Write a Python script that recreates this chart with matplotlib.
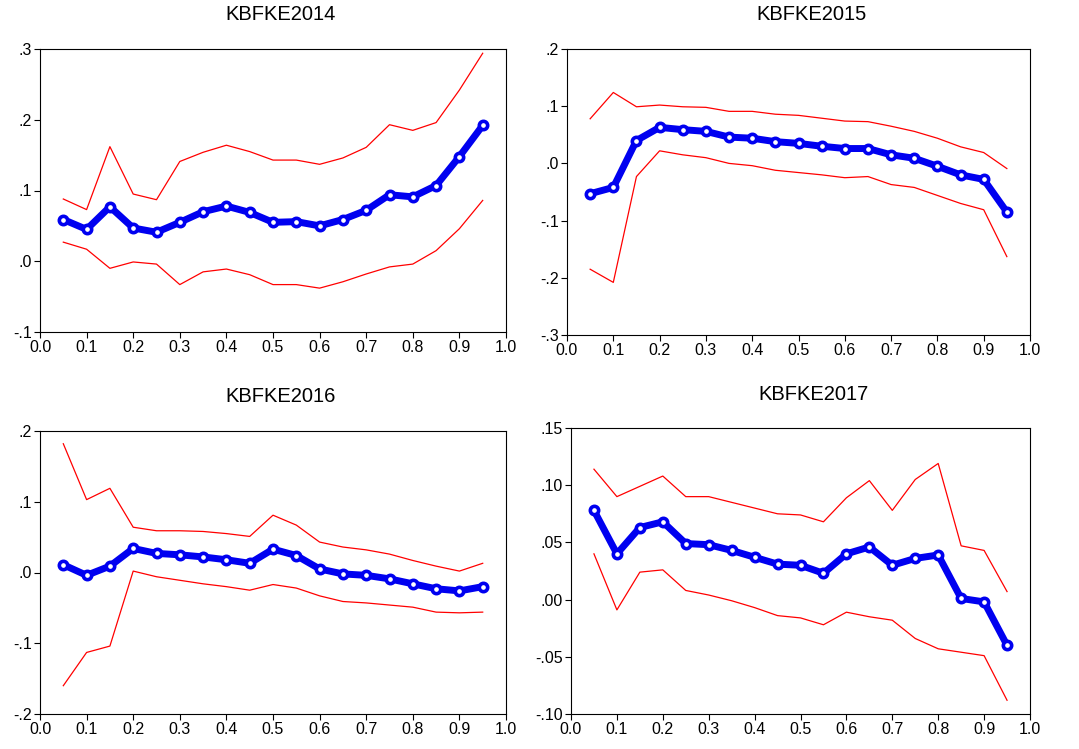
import matplotlib.pyplot as plt
import numpy as np

plt.rcParams['font.family'] = ['Liberation Sans', 'DejaVu Sans']

# quantile grid
tau = [0.05, 0.10, 0.15, 0.20, 0.25, 0.30, 0.35, 0.40, 0.45, 0.50,
       0.55, 0.60, 0.65, 0.70, 0.75, 0.80, 0.85, 0.90, 0.95]

titles = ['KBFKE2014', 'KBFKE2015', 'KBFKE2016', 'KBFKE2017']

# KBFKE2014
coef_2014 = [0.059, 0.045, 0.077, 0.047, 0.041, 0.055, 0.070, 0.078, 0.069, 0.055,
             0.056, 0.050, 0.059, 0.072, 0.094, 0.091, 0.107, 0.148, 0.192]
upper_2014 = [0.088, 0.073, 0.162, 0.095, 0.087, 0.141, 0.154, 0.164, 0.155, 0.143,
              0.143, 0.137, 0.146, 0.161, 0.193, 0.185, 0.196, 0.242, 0.294]
lower_2014 = [0.027, 0.017, -0.010, -0.001, -0.004, -0.033, -0.015, -0.011, -0.019, -0.033,
              -0.033, -0.038, -0.029, -0.018, -0.008, -0.004, 0.015, 0.046, 0.086]

# KBFKE2015
coef_2015 = [-0.053, -0.042, 0.040, 0.063, 0.059, 0.056, 0.046, 0.044, 0.038, 0.035,
             0.030, 0.026, 0.026, 0.015, 0.009, -0.005, -0.020, -0.028, -0.085]
upper_2015 = [0.078, 0.124, 0.099, 0.102, 0.099, 0.098, 0.091, 0.091, 0.086, 0.084,
              0.079, 0.074, 0.073, 0.065, 0.056, 0.044, 0.029, 0.019, -0.009]
lower_2015 = [-0.185, -0.208, -0.023, 0.022, 0.015, 0.010, 0.000, -0.004, -0.012, -0.016,
              -0.020, -0.025, -0.023, -0.037, -0.042, -0.056, -0.070, -0.081, -0.163]

# KBFKE2016
coef_2016 = [0.011, -0.004, 0.009, 0.034, 0.027, 0.025, 0.022, 0.018, 0.013, 0.033,
             0.024, 0.005, -0.002, -0.004, -0.009, -0.016, -0.023, -0.026, -0.020]
upper_2016 = [0.182, 0.103, 0.119, 0.064, 0.059, 0.059, 0.058, 0.055, 0.051, 0.081,
              0.067, 0.043, 0.036, 0.032, 0.026, 0.017, 0.009, 0.002, 0.013]
lower_2016 = [-0.160, -0.113, -0.104, 0.002, -0.006, -0.011, -0.016, -0.020, -0.025, -0.017,
              -0.022, -0.033, -0.041, -0.043, -0.046, -0.049, -0.056, -0.057, -0.056]

# KBFKE2017
coef_2017 = [0.078, 0.040, 0.063, 0.068, 0.049, 0.048, 0.043, 0.037, 0.031, 0.030,
             0.023, 0.040, 0.046, 0.030, 0.036, 0.039, 0.001, -0.002, -0.040]
upper_2017 = [0.114, 0.090, 0.099, 0.108, 0.090, 0.090, 0.085, 0.080, 0.075, 0.074,
              0.068, 0.089, 0.104, 0.078, 0.105, 0.119, 0.047, 0.043, 0.007]
lower_2017 = [0.040, -0.009, 0.024, 0.026, 0.008, 0.004, -0.001, -0.007, -0.014, -0.016,
              -0.022, -0.011, -0.015, -0.018, -0.034, -0.043, -0.046, -0.049, -0.088]

coefs = [coef_2014, coef_2015, coef_2016, coef_2017]
uppers = [upper_2014, upper_2015, upper_2016, upper_2017]
lowers = [lower_2014, lower_2015, lower_2016, lower_2017]

# y axis setup per panel
yticks = [[-0.1, 0.0, 0.1, 0.2, 0.3],
          [-0.3, -0.2, -0.1, 0.0, 0.1, 0.2],
          [-0.2, -0.1, 0.0, 0.1, 0.2],
          [-0.10, -0.05, 0.00, 0.05, 0.10, 0.15]]
ylabels = [['-.1', '.0', '.1', '.2', '.3'],
           ['-.3', '-.2', '-.1', '.0', '.1', '.2'],
           ['-.2', '-.1', '.0', '.1', '.2'],
           ['-.10', '-.05', '.00', '.05', '.10', '.15']]

xticks = [0.0, 0.1, 0.2, 0.3, 0.4, 0.5, 0.6, 0.7, 0.8, 0.9, 1.0]

W, H = 1079, 749
# axes boxes in pixels: left, top, right, bottom
boxes = [(40, 49, 506, 332),
         (567, 49, 1030, 335),
         (40, 431, 506, 714),
         (571, 428, 1030, 714)]
# title centres in pixels
title_pos = [(281, 14), (811, 14), (281, 396), (814, 394)]

fig = plt.figure(figsize=(W / 100, H / 100), dpi=100)

for i in range(4):
    l, t, r, b = boxes[i]
    ax = fig.add_axes([l / W, 1 - b / H, (r - l) / W, (b - t) / H])
    ax.plot(tau, uppers[i], color='red', lw=0.9)
    ax.plot(tau, lowers[i], color='red', lw=0.9)
    ax.plot(tau, coefs[i], color='#0000f0', lw=5, marker='o',
            markersize=6, markerfacecolor='white', markeredgecolor='#0000f0',
            markeredgewidth=2.6, zorder=3)
    ax.set_xlim(0, 1)
    ax.set_ylim(yticks[i][0], yticks[i][-1])
    ax.set_xticks(xticks)
    ax.set_xticklabels(['%.1f' % v for v in xticks])
    ax.set_yticks(yticks[i])
    ax.set_yticklabels(ylabels[i])
    ax.tick_params(direction='out', length=4, width=0.8, labelsize=11.5, pad=2)
    for s in ax.spines.values():
        s.set_linewidth(0.8)
    tx, ty = title_pos[i]
    fig.text(tx / W, 1 - ty / H, titles[i], fontsize=14.5,
             ha='center', va='center')

plt.savefig('out.png', dpi=100)
